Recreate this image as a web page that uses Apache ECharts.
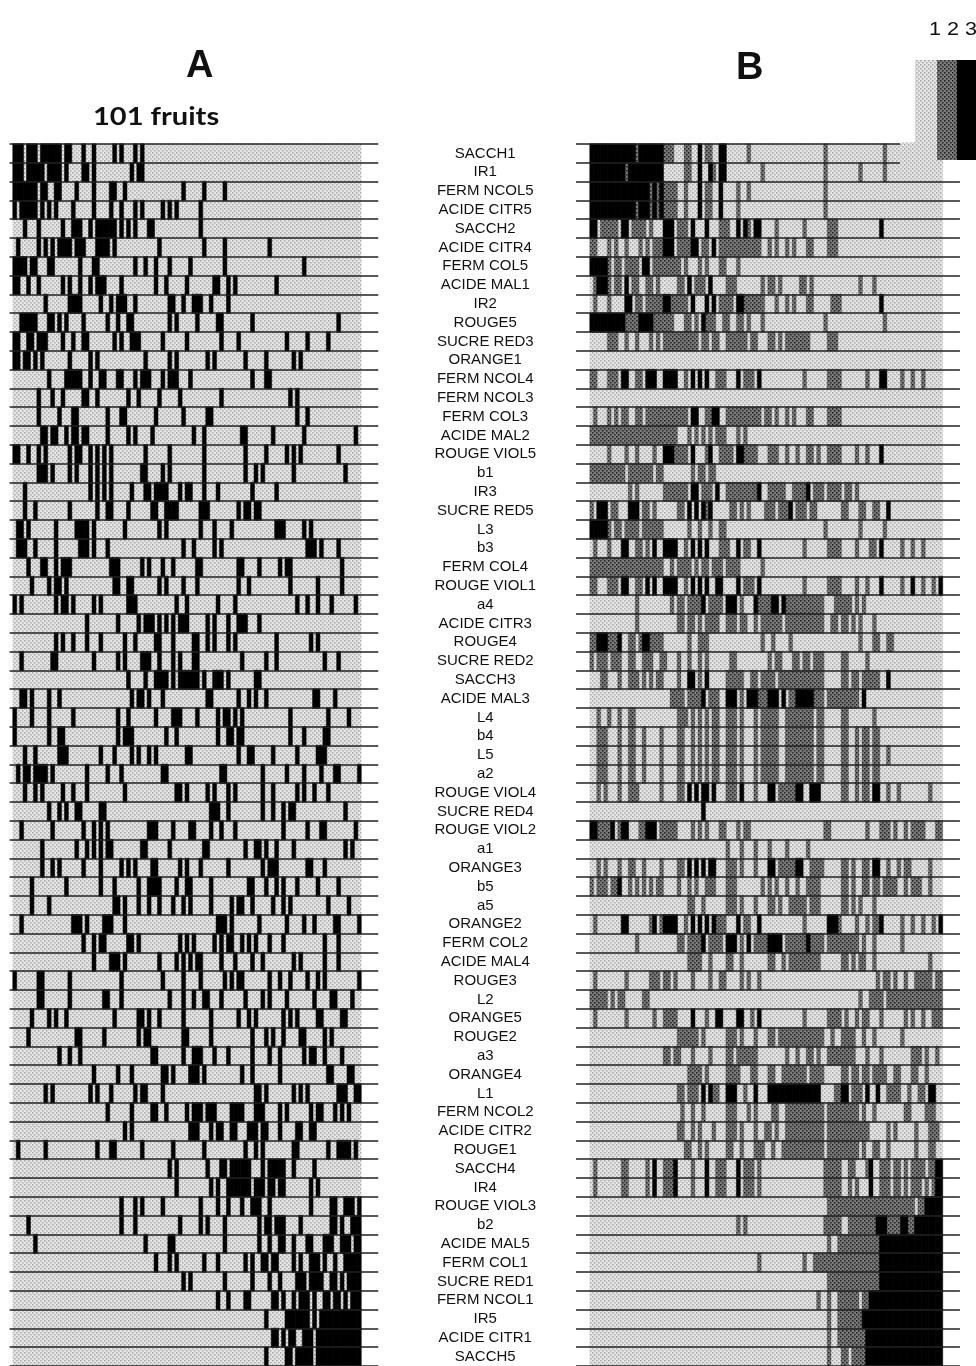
<!DOCTYPE html>
<html><head><meta charset="utf-8"><style>html,body{margin:0;padding:0;background:#fff}#c{width:976px;height:1366px}</style>
<script src="https://cdn.jsdelivr.net/npm/echarts@6/dist/echarts.min.js"></script></head><body><div id="c"></div>
<script>
const rowLabels = ["SACCH1","IR1","FERM NCOL5","ACIDE CITR5","SACCH2","ACIDE CITR4","FERM COL5","ACIDE MAL1","IR2","ROUGE5","SUCRE RED3","ORANGE1","FERM NCOL4","FERM NCOL3","FERM COL3","ACIDE MAL2","ROUGE VIOL5","b1","IR3","SUCRE RED5","L3","b3","FERM COL4","ROUGE VIOL1","a4","ACIDE CITR3","ROUGE4","SUCRE RED2","SACCH3","ACIDE MAL3","L4","b4","L5","a2","ROUGE VIOL4","SUCRE RED4","ROUGE VIOL2","a1","ORANGE3","b5","a5","ORANGE2","FERM COL2","ACIDE MAL4","ROUGE3","L2","ORANGE5","ROUGE2","a3","ORANGE4","L1","FERM NCOL2","ACIDE CITR2","ROUGE1","SACCH4","IR4","ROUGE VIOL3","b2","ACIDE MAL5","FERM COL1","SUCRE RED1","FERM NCOL1","IR5","ACIDE CITR1","SACCH5"];
// column runs per row; k = black class, g = dark grey class, everything else = light class
const rowsA = [
"0-2 4-6 8-13 15-16 20 23 29 31 35 37",
"0-2 4-8 10-13 15 20-21 23 34 36-37",
"0-6 8-9 12-13 18 23 28-29 32 49 55 61",
"0 2-6 8 10 12 17 23 28 31 35 37 43 45 47 54",
"3 7 14 17-19 22 24-28 29 31 33 35 39-40 54",
"1 7 9 11 13-16 18-20 24-27 29 42 55 61 74",
"0-3 5-6 10-11 19 23-24 35 38 41 45 51 61 84",
"0-1 4 7 14 16 19 22 24-26 31 41 44 50 58-59 62 64 76",
"9 16-19 25 28 30-32 35 45-46 49 52-54 57 62",
"2-4 5-6 10-11 13 15 20 27 30 33-34 45 47 53 59-60 69 94",
"0-1 4-5 7-9 14 17 20-21 29 31 34-36 43 50 60 65 79 85 91",
"0-1 3-4 6 8 16 22 24 38 45 47 56 58 67 73 81 83",
"10 15-18 19 22 25-26 30-31 35 37-39 43 45-47 51 69 73-74",
"7 11 14 20-21 24 33 36 42 48 60 80 82",
"7 13 17-18 27 31-32 41 49 56-57 82 85",
"8-9 11-12 15 17-18 20-21 27 33 35 40 52 55 66-67 75 84 99",
"0-1 4 7 9 16 18-19 22 24 26 28 38 45 55 67 73 79 81 83 94",
"7-9 11 16 18 22 24 26 28 37-38 43 45 55 67 70 72 81 96",
"3 22 24 26 28 34 38-39 41-44 48 50-51 55 59 69 76",
"3 6 16 24 27-28 33 40-41 44-46 47 54-56 65 67-68 70-71",
"1-2 4 12 18-21 23 32 42 44 54 58 63 76-78 84 86",
"1-3 6 12 19-21 23 27 49 52 58 60 85-87 89 94",
"4 8-9 12 14-16 28-30 37 39 43 46 53-54 65-66 71 77 79-80 95",
"5 10 12-13 15 29-30 33-34 42 44 49 53 65 68 80 88 95",
"0 2 12 14-15 17 23 25 33-35 47 50 59 64 82 85 88 92 99",
"21 30 36 38-40 42 44 46 48-50 56 58 62 65-67 71",
"12 14 17 21 25 32 35 41-42 46 52-53 56 58 62 64 76 86 88",
"2 11-12 23 30 32 37-39 42 46 48 52-53 66 73 76 90 94",
"33 38 41-44 46 48-53 55 58-60 62 70-71",
"2-3 5 10 13 34 36-37 39 43 56-57 65 68 70 73 87-88 93",
"0 5 10 17 30 33 41 46-48 53 59 61-62 64 66 80 91 97",
"0 10 13-14 30 32-34 44 47 59 62-63 65-66 80 84 90-91",
"3 6 13-15 25 29 34 36 39 41 50-51 65 68-69 75 82 88-90",
"1 3-4 6-8 9 11 21 27 31 43-44 60-61 72 79 84 89 93-94 100",
"3 6 8 14 17 21 32 47-48 50 56 58 62 64 72 75 82 84 87 91",
"10 13 15 18-19 25-26 57-59 62 72 75 78 80-81 96",
"2 11 20 23 25 27 39-41 46 51-52 57 60 64 78 85 89-90 99",
"8 18 21 23 25 27-28 37-38 45 55-56 67 70-71 73 76 81 96 98",
"8 11 13 20 25 31 33 35 40-41 48 50 54 62 72 74-76 85-86 90",
"5 15 25 29 36 39-42 47 50-51 57 68-69 73 76 78 82 88 94",
"5 10 29-30 32 36 39 42 46 49 51 57 63 65-66 69 75 78 80 91 97",
"2 17-19 21 26-28 32 59-61 63 71 79 84 87 93-94 100",
"20 23 25-26 33-34 36 48 50 52 58 60 62-63 66 68 70 74 78 90 94",
"23 28-30 32 42 47 49 51 53-54 60 64 69 72 81 83 90 94",
"0 7-8 16 31 43 49 54 61 63 65-66 74 77 80 85 88 90 100",
"7-8 16 26-27 31 45 49 52 55-56 60 67 72 74 79 87 92-93 98",
"5 10 12 15 29 36-37 39 42 49 57 65 68 70 78 80 82 88-89 95-96",
"4 18-19 26 36 38-39 49-50 57 69 73 75 78 83-84 90 92",
"13 16 19 40-41 49 52-54 58 62 69 74 77 84 86-87 90 95",
"23 30 34 43-44 46 51-53 55 66 69 77 91-92 97-98",
"9 11 22 24 28 35 37-38 43 70-71 73 81 83 85 94-96 99-100",
"27 34 40-41 44 50 52-54 56-58 63-66 70-72 77 79 86 88-89 93 95 97",
"32 34 51-53 57 59-60 63-64 68-70 72-73 77 82-83 86-87",
"1 9 24 28-29 37 46 55 67 70 72 81-82 91 94-97 99",
"45 47 56 60-61 63-68 72 74-78 81 87",
"47 57 59 62 63-68 70-72 74-75 77-78 86 88",
"31 35 37 43 54 59 62 66 69-71 74 86 92-93 96-98 100",
"4 31 35 48 54 56 61 71 73-74 76-78 83 92-93 95 98-100",
"6 38 45-46 61 71 74 77-78 81 85-86 90-92 95-97 99-100",
"41 45 47 55 59 67 69 72-73 75-76 81 83 86-88 90 93 96-100",
"49 51 61 69 74 77 82-84 86-89 92-93 95 97-100",
"59 62 67-68 75-76 78 81 83-85 87 90-91 93-94 96 98-100",
"73 79-85 87 89-100",
"75-76 78 80-81 84-86 88-100",
"73 79-80 82-86 88-100"
];
const rowsB = [
"k0-12 g13 k14-20 g21-23 g27-28 k31 g33-34 k37-38 g45 g67 g84",
"k0-9 g10 k11-20 g27-28 k31 k34 g35 k37-38 g49 g67 g77 g84",
"k0-16 g17 k18 g19 k20 g21-24 g27 k31 g33-34 k37 g42 g45 g67",
"k0-12 g13 k14-16 g17 k18 g19 k20 g21-24 g27 k31 g33-34 k37 g42 g67",
"k0-1 g3-7 k9-10 g12-15 g17 k21-23 g25-27 k29 k33 g37-39 k42 k44 g45 k47-48 g53 g61 g68-70 k83",
"g0-1 g5 g7 g10 g14 g16 g18-20 k21-23 g25-28 k29-30 g32-33 k35 g37-48 g51 g53 g56 g58 g62-63 g68-70",
"k0-4 g5 g7-8 g10-13 k15-16 g18-25 g27 g31 g33 g37-38 g42",
"g1 k2-4 g5 g7-8 k10 g12-13 g16-17 g19 g25-26 k28 g30-32 k34 g39-41 g49 g51-52 g54 g60-61 g63 g77 g81",
"g1 g5 k10-11 g13-14 g16-20 k21-22 g23-27 k29 k33 k35 g37-40 k42-43 g44-49 g53 g56 g58 g62-63 g69-71 k83",
"k0-9 g10-11 g12-13 k14-17 g18-20 g21-23 g27-28 g30 k32 g33-35 g38-39 g42-43 g45 g49 g67 g84",
"g5-6 g7 g10 g13 g17 g19 g21-30 g32-33 g35-36 g39-44 g46-47 g51-52 g54 g56-62 g68-70",
"",
"g0-1 g5-7 k9-10 g13-14 k16-18 k21-24 g27 k29 k31 k33 g36-38 k42 g44-46 k48 g61 g68-71 g79 k83-84 g89 g92 g95",
"",
"g1 g5 g7 g9-10 g13-14 g16-20 g21-24 g25-27 k29-30 g33-34 k35-36 g39-48 g50-51 g53 g56 g58 g62-63 g68-71",
"g0-24 g28 g30 g32 g34 g36-38 g42 g44",
"g5 g10 g13 g18 k21-23 g24-27 k29 g33 k34 g37-38 g39-40 k42-43 g44-47 g51-52 g53 g56 g59 g62-63 g65 g68-71 g76 g79 k83",
"g0-9 g11-17 g19-20 g29 g31-32 g34-35",
"g11 g13 g21-27 k29-30 g32 g33-34 k36 g39-44 g45-47 k48 g51-55 g58-61 k62 g64-66 g68-71 g73-74 g76",
"g0 k2-4 g6-7 k11-13 g15-16 g18 g25-26 k28 k30 k32 g33 k34 g40-41 g43 g45 g50-52 g54-56 k57 g59-61 g63-64 g72-73 g77-78 g81-82 k85",
"k0-4 g5 g7-8 g10-13 g15 g16-20 g28 g31 g34 g37-38 g67 g77 g84",
"g1 g5 k9-10 g13-14 g16 k18 k21-24 g27 k29 k31 k33 g37-39 k42 g44-45 k48 g61 g68-71 g76 g80-81 k83 g89 g92 g95",
"g0-20 g23 g25-28 g30 g32-33 g35-37 g39-42 g49",
"g0-1 g5-7 k9-10 g13-14 k16 k18 k21-24 g27 k29 k31 k33 k36-37 k42 g44-46 k48 g61 g68-71 g76 g79 k83 g89 k92 g95 g98 k100",
"g13 g23 g25-26 g28-31 k32 g34-37 k39-41 g43 k47 g48-51 k52-53 k55 g56-66 g70-74 g76 g78",
"g13 g25-26 g28-29 g31 g33 g34-36 g39-41 g43-44 g47 g49-53 g54 g56 g57-66 g69-70 g72-73 g75 g77 g81",
"g0-1 k2-4 g5-7 k8 g11-12 g14 k15-16 g17-19 g20 g28 g31-33 g49 g52 g57 g77 g81-82 g85-86",
"g0 g2-4 g6-8 g11-12 g15-17 g20-21 g25 g28 g31 g33 g40-41 g51 g53-54 g58-59 g61-62 g64-65 g66 g72-73 g79",
"g3-4 g8 g11-13 g15 g17 g19-20 g25 k28-29 g31 k33 g39-42 g43 g46-47 g49-52 g54-60 g61-66 g72-73 g75-76 g78-80 g81-82 k85",
"g23-26 g28-31 k32 g34-36 k39-41 g43 k45-47 g48-50 k51-53 k55 g57-58 k59-63 g64-66 g68-76 k78",
"g2 g5 g8 g11-12 g25-27 g29 g31 g33 g35-36 g39-41 g43 g47 g49-53 g56 g57-63 g65-66 g72-73 g81",
"g2-4 g8 g11-12 g15 g20 g25-26 g29 g31 g33 g35-36 g39-41 g43 g47 g49-53 g56 g57-63 g65-66 g72-73 g76 g78-79 g81-82",
"g2-4 g8 g11-12 g15 g20 g25-26 g29 g31 g33 g35-36 g39-41 g43 g47 g49-53 g56 g57-63 g65-66 g72-73 g76 g78-79 g81-82 g85",
"g2-4 g8 g11-12 g15 g20 g25-26 g29 g31 g33 g35-36 g39-41 g43 g47 g49-53 g56 g57-63 g65-66 g72-73 g76 g78-79 g81-82",
"g2 g4 g8 g11-13 g20 g25-26 k28 k30 k32-33 k35 g39-41 k43 g47 k51-52 g54-58 k59-60 k63-65 g72-73 g76 g78-79 k81-82 g85 g88 g97",
"k32",
"k0-1 g2-5 k6 g8 k9-10 g14-15 k16-18 g20-23 g24 g29 g31 g33 g37-38 g42 g44-45 g67-68 g79 g83-85 g87 g90 g92-95 g99-100",
"g39 g43 g47 g51 g56 g62",
"g2 g4 g8 g11-12 g15 g20 g25-26 k28 k30 k32 k34-35 g39-41 g43 g47 k51-52 g54-58 k59-60 g63 g64-66 g72-73 g75 g78-79 k81-82 g85 g88 g90-91 g97",
"g0 g2-4 g6-7 k8 g11 g13 g15 g17 g19-20 g25 g28 g30 g33 g34-35 g39-41 g49 g51 g53 g56 g59 g62-63 g64-65 g72-73 g75 g78-79 g81-82 g84-87 g90 g92-94 g97",
"g28-29 g32 g39-41 g43 g47 g51-52 g54 g57-61 g63-65 g72-73 g75 g77 g81",
"g1 k9-10 g17 k18 g20 k21-24 g27 k29 k31 k33 k35 g36-38 k42 g44-45 k48 g61 k68-70 g71 g76 g79 g81-82 k83 g89 g92 g95 g98 k100",
"g13 g25-26 g28-31 k32 g34-37 k39-41 g43 k45 g47-50 k51-54 g56-61 k62 g63-66 g68-76 g78 g81 g89",
"g28-31 g34 g39-40 g43 g51-52 g55 g57-65 g72-73 g75 g77-78 g81 g97",
"g1 g10 g17-19 g21-22 g24 g29 g34 g37-38 g43 g45 g48 g82 g84-85 g87 g90 g93-97 g99-100",
"g0-4 g6 g8-9 g15-16 g77 g80-83 g85-89 g90-100",
"g1 g10 g18 g21-24 k29 g33 k36-37 k42-43 g46 k48 g61 g68-71 g73 g76 g78-79 g83 g90 g92 g95 g98-100",
"g25-28 g29-30 g32 g39-41 g43 g47 g51-52 g54-55 g56-66 g69 g72-75 g78 g81 g89",
"g21-22 g24-25 g29 g34 g39-40 g42-47 g56 g59 g62-63 g65 g68-72 g73-75 g79 g83 g92-94 g96 g99",
"g28-31 g33 g39-42 g46-47 g51-52 g55 g56-61 g63-66 g72-73 g75-76 g78-79 g81-84 g87-88 g92-93 g96",
"g25-26 g28-30 k32 k34 g35-36 k39-41 g44 k47 k51-56 k57-63 k64-65 g70-71 k72-73 g75-77 k79 k82 g85-88 g91 g94-95 k97-98",
"g26 g29 g32 g39-41 g45 g47 g52-53 g56-66 g68-76 g78 g81 g90-91 g96-98",
"g25-26 g29 g31 g35 g39-41 g43 g47 g50-51 g53 g56-66 g68-79 g85 g87 g93 g97-99",
"g27-28 g31 g33 g39-40 g43 g47-49 g52 g55 g56-66 g68-76 g78 g81-82 g85 g93 g97-98",
"g1 g9-10 g16 k18 g21-23 k24 g29 k33 g36-38 k42 g44-46 g48 g67-71 g74-75 g79 k80 g83-85 g87-88 g90 g92-94 g95 g97-98 k99-100",
"g1 g9-10 g16 k18 g21-23 k24 g29 k33 g36-38 k42 g44-46 g48 g67-71 g74 g76 k80 g83-85 g87-88 g90 g92-94 g96 g98 k99-100",
"g68-92 g94-95 k96-100",
"g42 g44 g67-71 g74-79 g80-81 k82-84 g85-88 k89-90 g91-92 k93-100",
"g68 g71-80 g81-82 k83-100",
"g48 g61 g64-74 g75-76 g77-80 g81-82 k83-100",
"g68-80 g81-82 k83-100",
"g65 g68 g71-76 g78-79 k80-100",
"g68 g71-77 k78-100",
"g68 g71-78 k79-100",
"g68 g72-73 g75-78 k79-100"
];
const levelNames = ["1","2","3"];

function tile(bg, fg, n){
  const c=document.createElement('canvas');c.width=c.height=n;const x=c.getContext('2d');
  x.fillStyle=bg;x.fillRect(0,0,n,n);x.fillStyle=fg;
  const h=n/2;x.fillRect(0,0,h/2+.5,1.5);x.fillRect(h,h,h/2+.5,1.5);
  return {image:c,repeat:'repeat'};
}
const lightFill=tile('#e6e6e6','#a4a4a4',4), darkFill=tile('#7c7c7c','#1e1e1e',4), blackFill='#000';
const fills=[lightFill,darkFill,blackFill];
const seam=[{borderColor:'#d6d6d6',borderWidth:0.3},{borderColor:'#555',borderWidth:0.3},{borderColor:'#000',borderWidth:0.5}];

function parseRow(s){
  const out=new Array(101).fill(0);
  s.split(/\s+/).filter(Boolean).forEach(t=>{
    let lv=2,p=t; if(t[0]==='g'){lv=1;p=t.slice(1);} else if(t[0]==='k'){p=t.slice(1);}
    const [a,b]=p.split('-').map(Number);
    for(let i=a;i<=(b===undefined?a:b);i++) out[i]=lv;
  });return out;
}
function cells(rows,pad){
  const d=[];
  [0,1,2].forEach(level=>{
    rows.forEach((s,r)=>{parseRow(s).forEach((v,c)=>{
      if(v===level) d.push({value:[c+pad,r,v],itemStyle:Object.assign({color:fills[v]},seam[v])});
    });});
  });
  return d;
}
const catsA=Array.from({length:107},(_,i)=>String(i)), catsB=Array.from({length:110},(_,i)=>String(i));
const ROW=18.8, TOP=144;
const lineStyle={show:true,interval:0,lineStyle:{color:'#222',width:1.5}};
const xAxisBase={type:'category',axisLine:{show:false},axisTick:{show:false},axisLabel:{show:false},splitLine:{show:false}};
const chart=echarts.init(document.getElementById('c'),null,{renderer:'canvas',width:976,height:1366});
chart.setOption({
  animation:false,backgroundColor:'#fff',
  title:[
    {text:'A',left:181,top:43,textStyle:{fontFamily:'Liberation Sans',fontSize:38,fontWeight:'bold',color:'#111'}},
    {text:'B',left:731,top:45,textStyle:{fontFamily:'Liberation Sans',fontSize:38,fontWeight:'bold',color:'#111'}}
  ],
  grid:[
    {left:13-3.446,top:TOP,width:107*3.446,height:65*ROW,containLabel:false},
    {left:590-4*3.49,top:TOP,width:110*3.49,height:65*ROW,containLabel:false}
  ],
  xAxis:[
    Object.assign({gridIndex:0,data:catsA},xAxisBase),
    Object.assign({gridIndex:1,data:catsB},xAxisBase)
  ],
  yAxis:[
    {gridIndex:0,type:'category',inverse:true,position:'right',data:rowLabels,z:5,axisLine:{show:false},axisTick:{show:false},splitLine:lineStyle,
     axisLabel:{show:true,interval:0,margin:107,align:'center',color:'#111',fontFamily:'Liberation Sans',fontSize:15,padding:[2,0,0,0]}},
    {gridIndex:1,type:'category',inverse:true,data:rowLabels,z:5,axisLine:{show:false},axisTick:{show:false},splitLine:lineStyle,axisLabel:{show:false}}
  ],
  series:[
    {type:'heatmap',xAxisIndex:0,yAxisIndex:0,data:cells(rowsA,1),progressive:0,emphasis:{disabled:true}},
    {type:'heatmap',xAxisIndex:1,yAxisIndex:1,data:cells(rowsB,4),progressive:0,emphasis:{disabled:true}}
  ],
  graphic:[
    {type:'rect',z:20,shape:{x:900,y:142.6,width:43,height:3},style:{fill:lightFill}},
    {type:'rect',z:20,shape:{x:900,y:161.4,width:43,height:3},style:{fill:lightFill}},
    {type:'rect',z:20,shape:{x:943,y:142,width:33,height:24},style:{fill:'#fff'}},
    {type:'rect',z:21,shape:{x:915,y:60,width:22,height:83},style:{fill:lightFill}},
    {type:'rect',z:21,shape:{x:937,y:60,width:20,height:100},style:{fill:darkFill}},
    {type:'rect',z:21,shape:{x:957,y:60,width:19,height:100},style:{fill:blackFill}},
    {type:'text',z:22,x:929,y:21,scaleX:1.2,style:{x:0,y:0,text:levelNames.join(' '),fill:'#111',font:'18px "Liberation Sans"'}},
    {type:'text',z:22,x:93,y:105,scaleX:1.21,style:{x:0,y:0,text:'101 fruits',fill:'#111',font:'bold 24px Lato'}}
  ]
});
</script></body></html>
